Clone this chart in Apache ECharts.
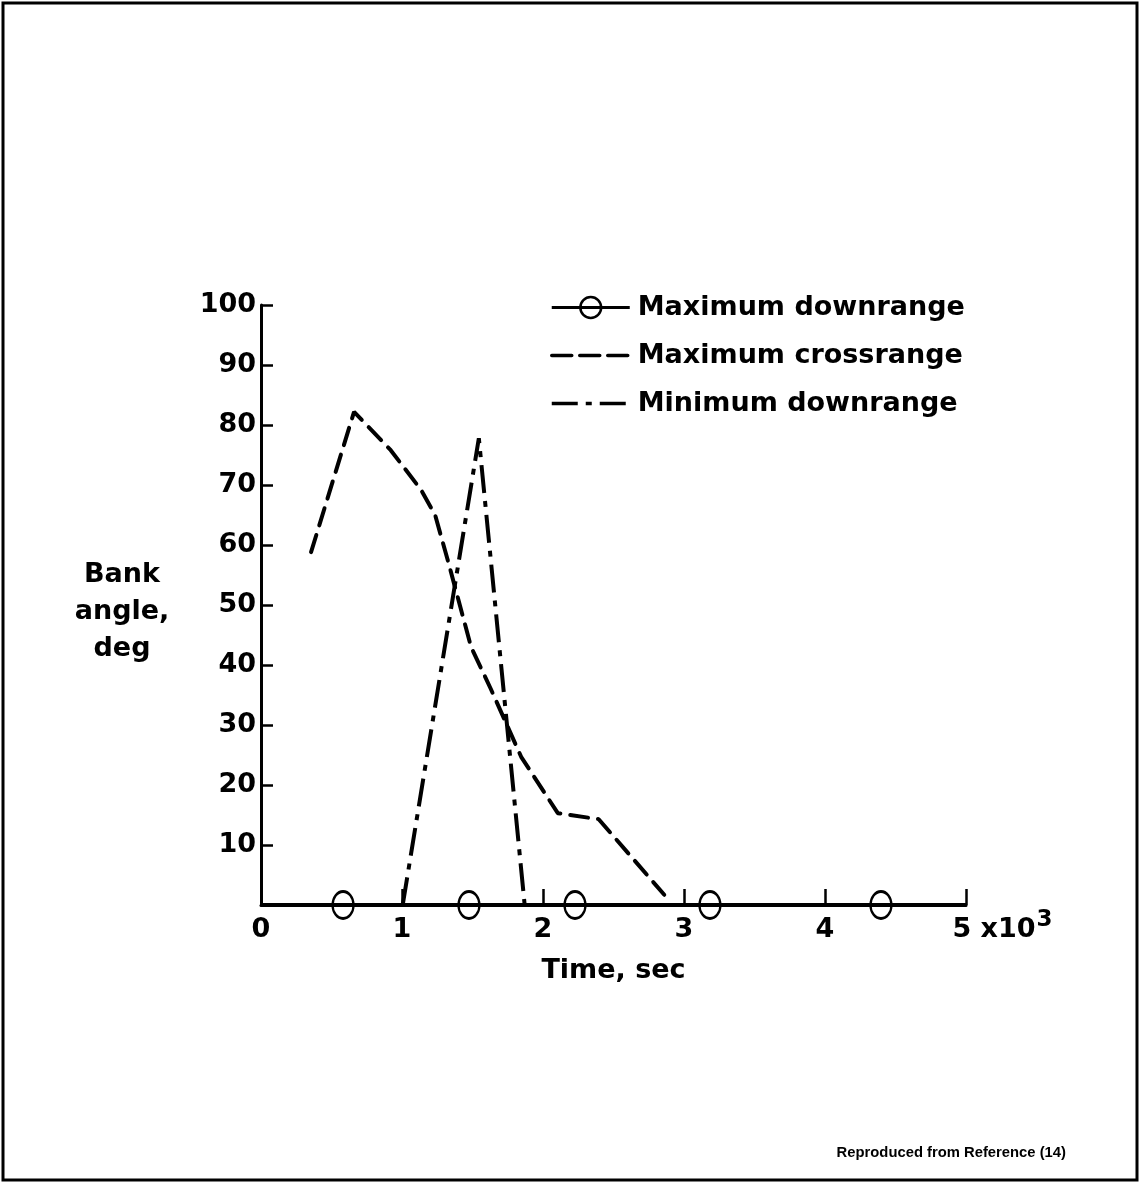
<!DOCTYPE html>
<html>
<head>
<meta charset="utf-8">
<script src="https://cdn.jsdelivr.net/npm/echarts@6/dist/echarts.min.js"></script>
<style>
html,body{margin:0;padding:0;background:#fff;}
#chart{width:1140px;height:1185px;}
</style>
</head>
<body>
<div id="chart"></div>
<script>
// Data (time in seconds, bank angle in degrees)
var seriesNames = ['Maximum downrange', 'Maximum crossrange', 'Minimum downrange'];
var maxDownrangeMarkers = [582, 1475, 2227, 3184, 4397]; // circle marker times, bank angle 0
var maxDownrangeLine = [[0, 0], [5000, 0]];
var maxCrossrange = [[355, 58.8], [660, 82.2], [920, 75.8], [1135, 69.2], [1235, 65], [1330, 57], [1490, 43], [1630, 36], [1845, 24.7], [2105, 15.3], [2395, 14.3], [2860, 1.7]];
var minDownrange = [[1005, 0], [1545, 77.8], [1870, 0]];
var xTicks = [0, 1000, 2000, 3000, 4000, 5000];
var yTicks = [10, 20, 30, 40, 50, 60, 70, 80, 90, 100];
var yAxisTitle = 'Bank\nangle,\ndeg';
var xAxisTitle = 'Time, sec';
var sourceNote = 'Reproduced from Reference (14)';

var FONT = 'DejaVu Sans';

var downData = [{value: maxDownrangeLine[0], symbol: 'none'}];
maxDownrangeMarkers.forEach(function (t) { downData.push({value: [t, 0]}); });
downData.push({value: maxDownrangeLine[1], symbol: 'none'});

var chart = echarts.init(document.getElementById('chart'), null, {renderer: 'canvas'});
chart.setOption({
  backgroundColor: '#fff',
  animation: false,
  grid: {left: 261, top: 305, width: 705, height: 600, containLabel: false},
  legend: {
    orient: 'vertical',
    left: 550,
    top: 294,
    padding: 0,
    itemWidth: 78,
    itemHeight: 26,
    itemGap: 21,
    inactiveColor: '#000',
    textStyle: {fontFamily: FONT, fontWeight: 'bold', fontSize: 27, color: '#000', padding: [0, 0, 0, 3]},
    data: [
      {name: seriesNames[0], itemStyle: {color: 'transparent', borderColor: '#000', borderWidth: 2.5}, lineStyle: {width: 3}},
      {name: seriesNames[1], itemStyle: {opacity: 0}, lineStyle: {width: 3.5, type: [20, 8]}},
      {name: seriesNames[2], itemStyle: {opacity: 0}, lineStyle: {width: 3.5, type: [26, 8, 6, 8]}}
    ]
  },
  xAxis: {
    type: 'value',
    min: 0, max: 5000, interval: 1000,
    name: xAxisTitle,
    nameLocation: 'middle',
    nameGap: 52,
    nameTextStyle: {fontFamily: FONT, fontWeight: 'bold', fontSize: 27, color: '#000'},
    splitLine: {show: false},
    axisLine: {lineStyle: {color: '#000', width: 3}},
    axisTick: {inside: true, length: 16, lineStyle: {color: '#000', width: 2.5}},
    axisLabel: {
      margin: 4,
      lineHeight: 42,
      color: '#000', fontFamily: FONT, fontWeight: 'bold', fontSize: 27,
      formatter: function (v) {
        if (v === 5000) return '{pad|}{a|5 x10}{sup|3}';
        return String(v / 1000);
      },
      rich: {
        pad: {width: 73, lineHeight: 42},
        a: {fontFamily: FONT, fontWeight: 'bold', fontSize: 27, color: '#000', lineHeight: 42},
        sup: {fontFamily: FONT, fontWeight: 'bold', fontSize: 23, color: '#000', lineHeight: 14, verticalAlign: 'top', padding: [0, 0, 0, 1]}
      }
    }
  },
  yAxis: {
    type: 'value',
    min: 0, max: 100, interval: 10,
    splitLine: {show: false},
    axisLine: {show: true, lineStyle: {color: '#000', width: 3}},
    axisTick: {inside: true, length: 12, lineStyle: {color: '#000', width: 2.5}},
    axisLabel: {
      margin: 5,
      color: '#000', fontFamily: FONT, fontWeight: 'bold', fontSize: 27,
      formatter: function (v) { return yTicks.indexOf(v) >= 0 ? String(v) : ''; }
    }
  },
  series: [
    {
      name: seriesNames[0],
      type: 'line',
      data: downData,
      symbol: 'circle',
      symbolSize: [21, 27],
      showAllSymbol: true,
      itemStyle: {color: 'transparent', borderColor: '#000', borderWidth: 2.5},
      lineStyle: {color: '#000', width: 4, type: 'solid'},
      z: 5
    },
    {
      name: seriesNames[1],
      type: 'line',
      data: maxCrossrange,
      symbol: 'none',
      itemStyle: {color: '#000'},
      lineStyle: {color: '#000', width: 4, type: [18, 10], cap: 'round'},
      z: 4
    },
    {
      name: seriesNames[2],
      type: 'line',
      data: minDownrange,
      symbol: 'none',
      itemStyle: {color: '#000'},
      lineStyle: {color: '#000', width: 4, type: [28, 8, 6, 8], cap: 'butt'},
      z: 4
    }
  ],
  graphic: [
    {type: 'rect', shape: {x: 3, y: 3, width: 1134, height: 1177}, style: {fill: 'none', stroke: '#000', lineWidth: 3}, silent: true},
    {type: 'text', x: 122, y: 612, style: {text: yAxisTitle, fontFamily: FONT, fontWeight: 'bold', fontSize: 27, lineHeight: 37, fill: '#000', align: 'center', verticalAlign: 'middle'}},
    {type: 'text', right: 74, top: 1145, style: {text: sourceNote, fontFamily: 'Liberation Sans', fontWeight: 'bold', fontSize: 14.8, fill: '#000'}}
  ]
});
</script>
</body>
</html>
